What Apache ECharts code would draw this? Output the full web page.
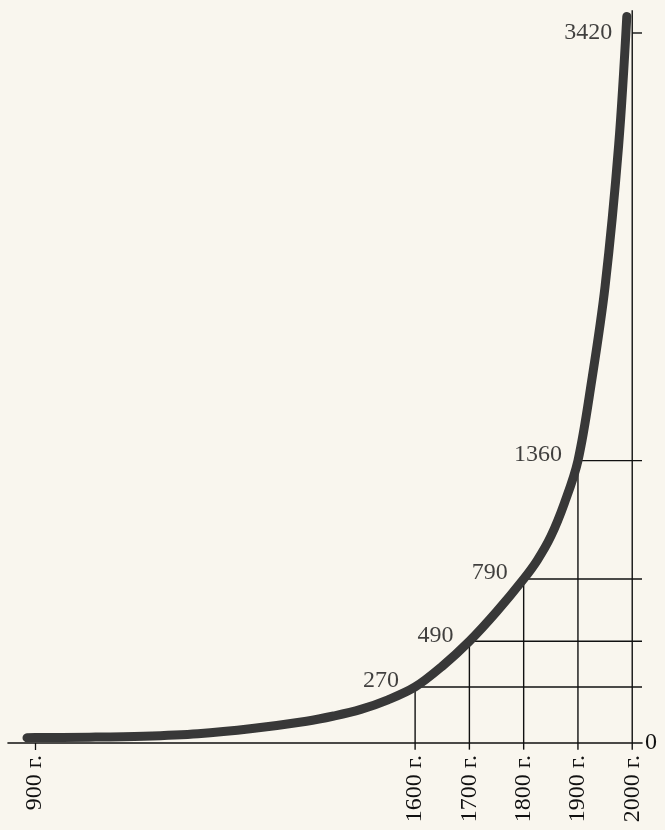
<!DOCTYPE html>
<html><head><meta charset="utf-8">
<script src="https://cdn.jsdelivr.net/npm/echarts@6/dist/echarts.min.js"></script>
<style>html,body{margin:0;background:#f9f6ee}#c{width:665px;height:830px}</style>
</head><body><div id="c"></div>
<script>
const curveYears = [885, 900, 1000, 1100, 1200, 1300, 1400, 1450, 1500, 1550, 1600, 1650, 1700, 1750, 1800, 1825, 1850, 1875, 1900, 1925, 1950, 1975, 1990];
const curveValues = [25, 26, 28, 33, 45, 70, 105, 130, 162, 208, 270, 370, 490, 632, 790, 880, 995, 1155, 1360, 1740, 2200, 2880, 3500];
const markYears = [1600, 1700, 1800, 1900, 2000];
const markValues = [270, 490, 790, 1360, 3420];
const tickYears = [900, 1600, 1700, 1800, 1900, 2000];
const yTickValues = [0];

const X_MIN = 850, X_MAX = 2018, Y_MAX = 3550;
const FONT = 'Liberation Serif';
const INK = '#111111';

const chart = echarts.init(document.getElementById('c'), null, {renderer: 'canvas'});

const guideSeries = [];
markYears.forEach((yr, i) => {
  const v = markValues[i];
  const last = i === markYears.length - 1;
  guideSeries.push({
    type: 'line', clip: false, symbol: 'none', silent: true,
    lineStyle: {color: INK, width: 1.4},
    data: [[yr, -32], [yr, last ? 3530 : v]]
  });
  guideSeries.push({
    type: 'line', clip: false, symbol: 'none', silent: true,
    lineStyle: {color: INK, width: 1.4},
    data: [[yr, v], [X_MAX, v]]
  });
});

const option = {
  backgroundColor: '#f9f6ee',
  animation: false,
  grid: {left: 8, top: 6, width: 634, height: 737},
  xAxis: {
    type: 'value', min: X_MIN, max: X_MAX,
    axisLine: {show: true, lineStyle: {color: INK, width: 1.6}},
    axisTick: {show: true, customValues: [900], length: 7, lineStyle: {color: INK, width: 1.3}},
    splitLine: {show: false},
    axisLabel: {
      customValues: tickYears, rotate: 90, margin: 12,
      fontFamily: FONT, fontSize: 24, color: INK,
      formatter: v => v + ' г.'
    }
  },
  yAxis: {
    type: 'value', min: 0, max: Y_MAX, position: 'right',
    axisLine: {show: false}, axisTick: {show: false}, splitLine: {show: false},
    axisLabel: {customValues: yTickValues, margin: 3, fontFamily: FONT, fontSize: 24, color: INK}
  },
  series: [
    ...guideSeries,
    {
      type: 'line', symbol: 'none', smooth: 0.35, clip: false,
      lineStyle: {color: '#383838', width: 9, cap: 'round', join: 'round'},
      data: curveYears.map((y, i) => [y, curveValues[i]]),
      z: 5
    },
    {
      type: 'scatter', symbolSize: 0, clip: false, z: 6,
      data: markYears.map((y, i) => [y, markValues[i]]),
      label: {
        show: true, position: 'left', distance: 16,
        fontFamily: FONT, fontSize: 24, color: INK,
        formatter: p => String(p.value[1]),
        offset: [0, -6]
      }
    }
  ]
};
option.series[option.series.length - 1].data[markYears.length - 1] = {
  value: [markYears[markYears.length - 1], markValues[markValues.length - 1]],
  label: {distance: 20, offset: [0, 0]}
};
chart.setOption(option);
</script>
</body></html>
